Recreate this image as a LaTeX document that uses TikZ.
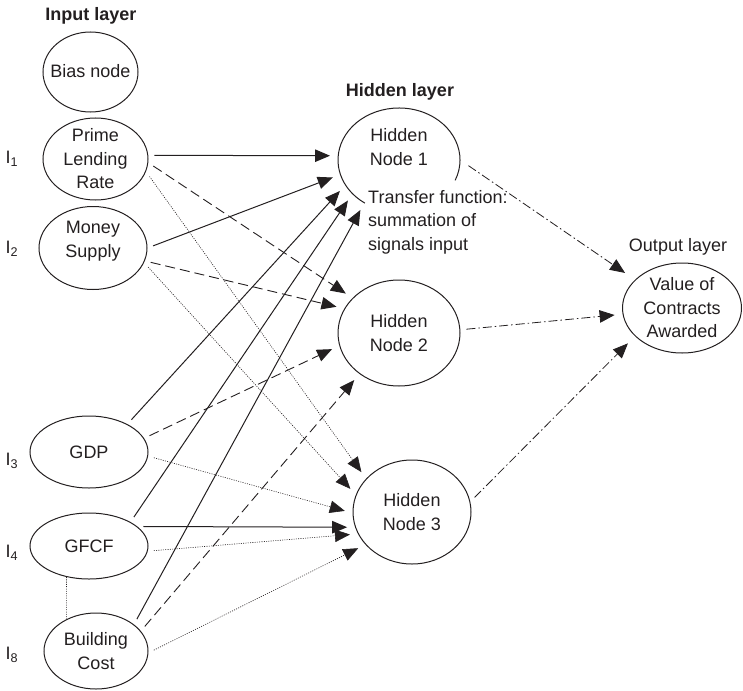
\documentclass[tikz,border=0pt]{standalone}
\usepackage{fontspec}
\setmainfont{Liberation Sans}
\usetikzlibrary{arrows.meta,shapes.geometric}
\definecolor{ink}{HTML}{231F20}
\begin{document}
\begin{tikzpicture}[x=1pt,y=-1pt,
  every node/.style={font=\fontsize{18}{23.5}\selectfont, text=ink},
  neuron/.style={ellipse, draw=ink, line width=1pt, inner sep=0pt},
  txt/.style={align=center, inner sep=0pt},
  title/.style={font=\bfseries\fontsize{18}{22}\selectfont},
  conn/.style={draw=ink, -{Triangle[length=15pt,width=12.5pt]}, shorten <=6pt, shorten >=8pt},
  solidc/.style={conn, line width=1pt},
  dashc/.style={conn, line width=0.9pt, dash pattern=on 10pt off 5pt},
  dotc/.style={conn, line width=0.6pt, dash pattern=on 1pt off 1.3pt},
  dashdotc/.style={conn, line width=0.8pt, dash pattern=on 9pt off 3pt on 1.5pt off 3pt},
]
\useasboundingbox (0,0) rectangle (743,690);

% titles
\node[title] (tin) at (91,16) {Input layer};
\node[title] (thid) at (400,92) {Hidden layer};
\node (tout) at (678,247) {Output layer};

% input nodes
\node[neuron, minimum width=95pt, minimum height=80pt, label={[txt,yshift=1pt]center:Bias node}] (bias) at (90.5,72) {};
\node[neuron, minimum width=105pt, minimum height=82pt, label={[txt]center:Prime\\Lending\\Rate}] (pl) at (95.5,159) {};
\node[neuron, minimum width=108pt, minimum height=83pt, label={[txt,yshift=7pt]center:Money\\Supply}] (ms) at (93,248) {};
\node[neuron, minimum width=118pt, minimum height=72pt, label={[txt]center:GDP}] (gdp) at (89,452) {};
\node[neuron, minimum width=118pt, minimum height=66pt, label={[txt]center:GFCF}] (gfcf) at (89,546) {};
\node[neuron, minimum width=104pt, minimum height=76pt, label={[txt]center:Building\\Cost}] (bc) at (96,651) {};

% input labels
\node (i1) at (12,159) {I\textsubscript{1}};
\node (i2) at (12,249) {I\textsubscript{2}};
\node (i3) at (12,461) {I\textsubscript{3}};
\node (i4) at (12,553) {I\textsubscript{4}};
\node (i8) at (12,655) {I\textsubscript{8}};

% hidden nodes
\node[ellipse, inner sep=0pt, minimum width=122pt, minimum height=104pt] (h1) at (399,160) {};
\draw[ink, line width=1pt] (h1.center) ++(-23:61pt and 52pt) arc[start angle=-23, end angle=236, x radius=61pt, y radius=52pt];
\node[txt] (h1t) at (399,147) {Hidden\\Node 1};
\node[anchor=north west, align=left, inner sep=0pt] (tf) at (368,190) {Transfer function:\\summation of\\signals input};
\node[neuron, minimum width=122pt, minimum height=106pt, label={[txt]center:Hidden\\Node 2}] (h2) at (399,333) {};
\node[neuron, minimum width=118pt, minimum height=104pt, label={[txt]center:Hidden\\Node 3}] (h3) at (412,512) {};

% output node
\node[neuron, minimum width=119pt, minimum height=90pt, label={[txt]center:Value of\\Contracts\\Awarded}] (out) at (682,308) {};

% connectors to hidden node 1 (solid)
\draw[solidc] (pl.4) -- (h1.176);
\draw[solidc] (ms.0) -- (h1.194);
\draw[solidc] (gdp.36) -- (h1.205);
\draw[solidc] (gfcf.30) -- (h1.216);
\draw[solidc] (bc.35) -- (h1.231);

% connectors to hidden node 2 (dashed)
\draw[dashc] (pl.-4) -- (h2.143);
\draw[dashc] (ms.-14) -- (h2.156);
\draw[dashc] (gdp.14) -- (h2.192);
\draw[dashc] (bc.24) -- (h2.226);

% connectors to hidden node 3 (dotted + one solid)
\draw[dotc] (pl.-14) -- (h3.144);
\draw[dotc] (ms.-16) -- (h3.163);
\draw[dotc] (gdp.-4) -- (h3.181);
\draw[solidc] (gfcf.22) -- (h3.195);
\draw[dotc] (gfcf.-5) -- (h3.202);
\draw[dotc] (bc.-2) -- (h3.215);

% GFCF - Building Cost
\draw[ink, line width=0.6pt, dash pattern=on 1pt off 1.3pt] (gfcf.234) -- (bc.133);

% hidden to output (dash-dot)
\draw[dashdotc, shorten <=10pt, shorten >=12pt] (h1.0) -- (out.149);
\draw[dashdotc] (h2.3) -- (out.186);
\draw[dashdotc, shorten >=10pt] (h3.10) -- (out.211);
\end{tikzpicture}
\end{document}
